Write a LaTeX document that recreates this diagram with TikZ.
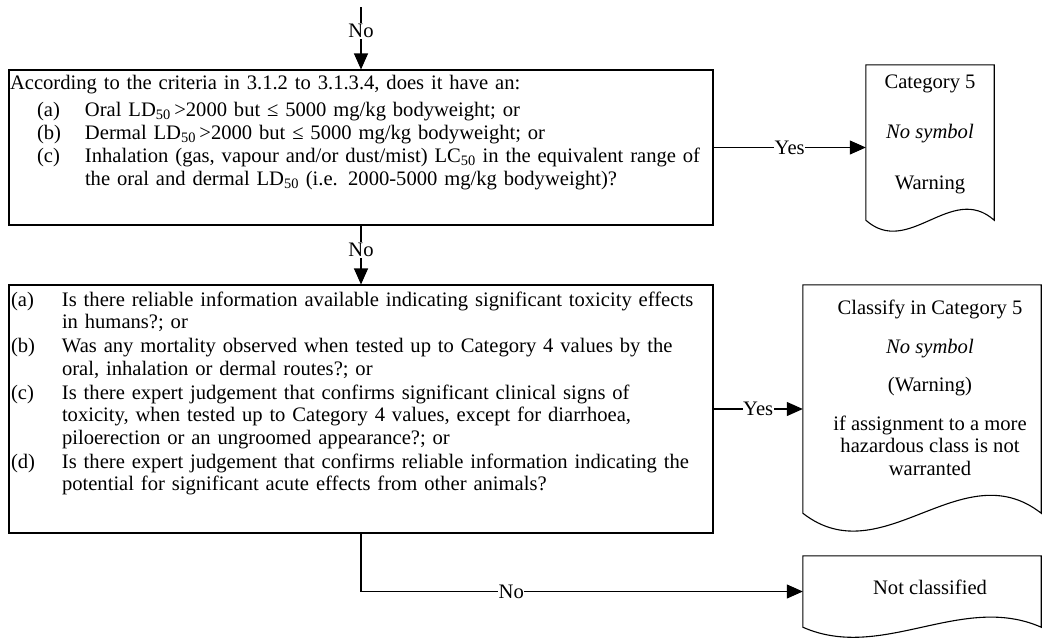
\documentclass[tikz,border=0pt]{standalone}
\usepackage{fontspec}
\setmainfont{Liberation Serif}
\usepackage{tikz}
\usetikzlibrary{arrows.meta,positioning,calc}
\newcommand{\boxfont}{\fontsize{20.6}{22.5}\selectfont}
\newcommand{\docpath}[2]{%
  \draw[docline] (#1.north west) -- (#1.north east) -- (#1.south east)
    .. controls ($(#1.south east)!1/3!(#1.south west)+(0,-#2)$) and ($(#1.south east)!2/3!(#1.south west)+(0,#2)$) .. (#1.south west) -- cycle;}

\begin{document}
\begin{tikzpicture}[x=1pt,y=-1pt,>={Triangle[length=16pt,width=14pt]},font=\boxfont]
  \path[use as bounding box] (0,0) rectangle (1049,637);
  \tikzset{
    qbox/.style={draw,line width=1.1pt,inner xsep=1pt,inner ysep=0pt,text width=702pt,align=left,minimum width=704pt},
    docbox/.style={draw=none,inner sep=0pt},
    docline/.style={line width=1.1pt},
    doctext/.style={align=center,inner sep=0pt},
    lbl/.style={fill=white,inner xsep=0.5pt,inner ysep=1pt},
    flow/.style={->,line width=1.1pt}
  }
  \coordinate (top) at (361,7);
  % question boxes, text hung from the top edge
  \node[qbox,text height=19pt,text depth=136pt] (q1) at (361,147.5) {According to the criteria in 3.1.2 to 3.1.3.4, does it have an:\\[5pt]
    \hspace*{27pt}\makebox[48pt][l]{(a)}Oral LD\textsubscript{50}\,>2000 but ≤ 5000 mg/kg bodyweight; or\\[0.5pt]
    \hspace*{27pt}\makebox[48pt][l]{(b)}Dermal LD\textsubscript{50}\,>2000 but ≤ 5000 mg/kg bodyweight; or\\[0.5pt]
    \hspace*{27pt}\makebox[48pt][l]{(c)}Inhalation (gas, vapour and/or dust/mist) LC\textsubscript{50} in the equivalent range of\\
    \hspace*{75pt}the oral and dermal LD\textsubscript{50} (i.e. 2000-5000 mg/kg bodyweight)?};
  \node[qbox,text height=21pt,text depth=227pt] (q2) at (361,409) {\hspace*{1pt}\makebox[51pt][l]{(a)}Is there reliable information available indicating significant toxicity effects\\
    \hspace*{52pt}in humans?; or\\[1.5pt]
    \hspace*{1pt}\makebox[51pt][l]{(b)}Was any mortality observed when tested up to Category 4 values by the\\
    \hspace*{52pt}oral, inhalation or dermal routes?; or\\[1.5pt]
    \hspace*{1pt}\makebox[51pt][l]{(c)}Is there expert judgement that confirms significant clinical signs of\\
    \hspace*{52pt}toxicity, when tested up to Category 4 values, except for diarrhoea,\\
    \hspace*{52pt}piloerection or an ungroomed appearance?; or\\[1.5pt]
    \hspace*{1pt}\makebox[51pt][l]{(d)}Is there expert judgement that confirms reliable information indicating the\\
    \hspace*{52pt}potential for significant acute effects from other animals?};

  % result documents
  \node[docbox,minimum width=128pt,minimum height=155pt] (doc1) at (930,142.5) {};
  \node[docbox,minimum width=238pt,minimum height=228pt] (doc2) at (922,399) {};
  \node[docbox,minimum width=238pt,minimum height=71pt] (doc3) at (922,591.5) {};
  \docpath{doc1}{38}
  \docpath{doc2}{62}
  \docpath{doc3}{35}
  \node[doctext] (doc1t) at (930,134) {Category 5\\[28pt]\textit{No symbol}\\[28pt]Warning};
  \node[doctext] (doc2t) at (930,388) {Classify in Category 5\\[16pt]\textit{No symbol}\\[16pt](Warning)\\[16pt]if assignment to a more\\hazardous class is not\\warranted};
  \node[doctext] (doc3t) at (930,587) {Not classified};

  \draw[flow] (top) -- node[lbl,pos=0.38] {No} (q1);
  \draw[flow] (q1) -- node[lbl,pos=0.42] {No} (q2);
  \draw[flow] (q1.east) -- node[lbl] {Yes} (q1.east -| doc1.west);
  \draw[flow] (q2.east) -- node[lbl] {Yes} (q2.east -| doc2.west);
  \draw[flow] (q2.south) |- node[lbl,pos=0.67] {No} (doc3.west);
\end{tikzpicture}
\end{document}
